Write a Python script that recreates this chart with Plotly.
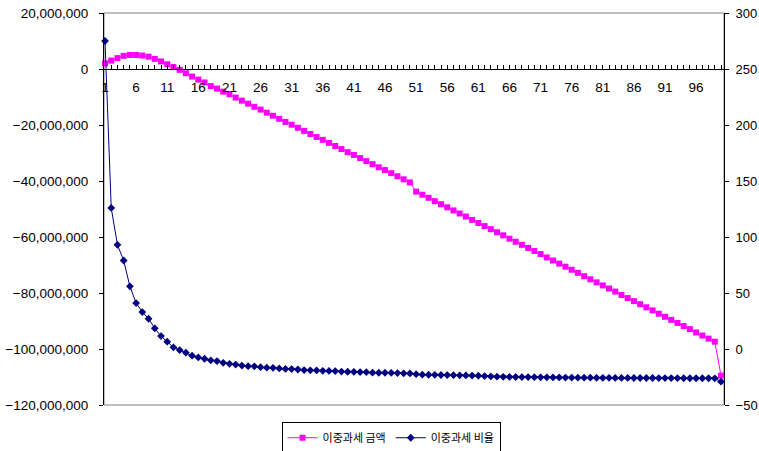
import plotly.graph_objects as go

categories = list(range(1, 101))

amount = [  # 이중과세 금액 (won)
    2.0e6, 3.0e6, 3.9e6, 4.7e6, 5.0e6, 5.0e6, 4.8e6, 4.4e6, 3.6e6, 2.7e6,
    1.7e6, 0.7e6, -0.3e6, -1.5e6, -2.7e6, -3.8e6, -4.8e6, -6.1e6, -7.0e6, -8.1e6,
    -9.0e6, -10.2e6, -11.3e6, -12.4e6, -13.5e6, -14.5e6, -15.6e6, -16.7e6, -17.8e6, -18.9e6,
    -19.9e6, -21.0e6, -22.1e6, -23.2e6, -24.3e6, -25.3e6, -26.4e6, -27.5e6, -28.6e6, -29.7e6,
    -30.7e6, -31.8e6, -32.9e6, -34.0e6, -35.1e6, -36.1e6, -37.2e6, -38.3e6, -39.4e6, -40.5e6,
    -43.8e6, -44.9e6, -46.0e6, -47.2e6, -48.3e6, -49.4e6, -50.5e6, -51.6e6, -52.7e6, -53.9e6,
    -55.0e6, -56.1e6, -57.2e6, -58.3e6, -59.4e6, -60.6e6, -61.7e6, -62.8e6, -63.9e6, -65.0e6,
    -66.1e6, -67.3e6, -68.4e6, -69.5e6, -70.6e6, -71.7e6, -72.8e6, -74.0e6, -75.1e6, -76.2e6,
    -77.3e6, -78.4e6, -79.5e6, -80.7e6, -81.8e6, -82.9e6, -84.0e6, -85.1e6, -86.2e6, -87.4e6,
    -88.5e6, -89.6e6, -90.7e6, -91.8e6, -92.9e6, -94.1e6, -95.2e6, -96.3e6, -97.4e6, -109.5e6,
]

ratio = [  # 이중과세 비율
    275, 126, 93, 79, 56, 41, 33, 27, 18.5, 11.5,
    6.5, 1.5, -1, -3.3, -6, -7.5, -8.7, -10.1, -10.8, -12.3,
    -13.2, -13.9, -14.8, -15.3, -15.5, -16.2, -16.7, -16.8, -17.3, -17.8,
    -17.9, -18.3, -18.8, -19.0, -19.1, -19.5, -19.6, -19.7, -20.2, -20.3,
    -20.4, -20.6, -20.7, -21.1, -21.2, -21.2, -21.3, -21.5, -21.7, -21.8,
    -22.5, -22.9, -23.0, -23.1, -23.2, -23.3, -23.4, -23.5, -23.6, -23.7,
    -23.9, -24.2, -24.5, -24.7, -24.8, -24.9, -25.0, -25.1, -25.1, -25.2,
    -25.3, -25.3, -25.4, -25.4, -25.5, -25.5, -25.6, -25.6, -25.6, -25.7,
    -25.7, -25.7, -25.8, -25.8, -25.8, -25.9, -25.9, -25.9, -25.9, -26.0,
    -26.0, -26.0, -26.0, -26.1, -26.1, -26.1, -26.1, -26.1, -26.2, -29.2,
]

x_ticktext = [str(c) if (c - 1) % 5 == 0 else "" for c in categories]

FONT = "Liberation Sans, Arial, Noto Sans CJK KR"

fig = go.Figure()
fig.add_trace(go.Scatter(
    x=categories, y=amount, name="이중과세 금액", mode="lines+markers",
    line=dict(color="#FF00FF", width=1),
    marker=dict(symbol="square", size=6, color="#FF00FF"),
    yaxis="y", cliponaxis=False,
))
fig.add_trace(go.Scatter(
    x=categories, y=ratio, name="이중과세 비율", mode="lines+markers",
    line=dict(color="#000080", width=1),
    marker=dict(symbol="diamond", size=6, color="#000080"),
    yaxis="y2", cliponaxis=False,
))

fig.update_layout(
    width=759, height=451,
    margin=dict(l=104, r=35, t=13, b=46, autoexpand=False),
    paper_bgcolor="white", plot_bgcolor="white",
    font=dict(family=FONT, size=13, color="black"),
    showlegend=True,
    legend=dict(
        orientation="h", x=0.463, xanchor="center", y=-0.044, yanchor="top",
        bordercolor="black", borderwidth=1, bgcolor="white",
        font=dict(family="Noto Sans CJK KR", size=11),
        itemwidth=30, tracegroupgap=0,
    ),
    xaxis=dict(
        range=[0.84, 100.48], anchor="free", position=120 / 140,
        tickmode="array", tickvals=categories, ticktext=x_ticktext,
        ticks="inside", ticklen=4, tickcolor="black", tickwidth=1,
        showline=True, linecolor="black", linewidth=1,
        showgrid=False, zeroline=False, automargin=False,
        ticklabelstandoff=6,
        tickfont=dict(size=13.5),
    ),
    yaxis=dict(
        range=[-120e6, 20e6], dtick=20e6, tick0=0, tickformat=",d",
        ticks="outside", ticklen=4, tickcolor="black",
        showline=True, linecolor="black", linewidth=1,
        showgrid=False, zeroline=False, automargin=False,
        ticklabelstandoff=8,
        tickfont=dict(size=13.5),
    ),
    yaxis2=dict(
        range=[-50, 300], dtick=50, tick0=0, overlaying="y", side="right",
        anchor="x",
        ticks="outside", ticklen=4, tickcolor="black",
        showline=True, linecolor="black", linewidth=1,
        showgrid=False, zeroline=False, automargin=False,
        ticklabelstandoff=4,
        tickfont=dict(size=13),
    ),
    shapes=[dict(
        type="rect", xref="paper", yref="paper", x0=0, x1=1, y0=0, y1=1,
        line=dict(color="#808080", width=1), layer="below",
    )],
)

fig.write_html(
    "out.html",
    config={"displayModeBar": False},
    post_script="document.body.style.margin='0';document.body.style.overflow='hidden';",
)
